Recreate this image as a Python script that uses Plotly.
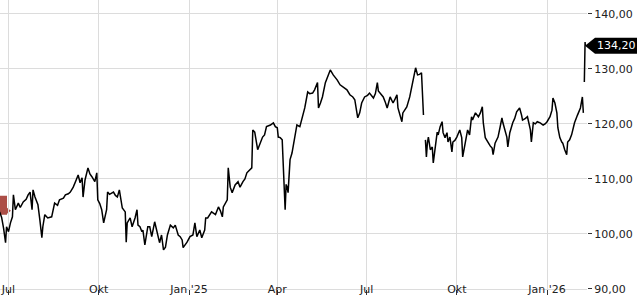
import plotly.graph_objects as go

dates = [
    "2024-06-22", "2024-06-24", "2024-06-26", "2024-06-28", "2024-06-29", "2024-07-01", "2024-07-03", "2024-07-05",
    "2024-07-06", "2024-07-08", "2024-07-11", "2024-07-13", "2024-07-16", "2024-07-19", "2024-07-21", "2024-07-23",
    "2024-07-25", "2024-07-26", "2024-07-28", "2024-07-31", "2024-08-02", "2024-08-04", "2024-08-05", "2024-08-07",
    "2024-08-10", "2024-08-14", "2024-08-17", "2024-08-20", "2024-08-22", "2024-08-26", "2024-08-28", "2024-08-31",
    "2024-09-02", "2024-09-05", "2024-09-08", "2024-09-10", "2024-09-12", "2024-09-14", "2024-09-15", "2024-09-17",
    "2024-09-20", "2024-09-22", "2024-09-24", "2024-09-27", "2024-09-29", "2024-09-30", "2024-10-02", "2024-10-04",
    "2024-10-06", "2024-10-09", "2024-10-10", "2024-10-12", "2024-10-16", "2024-10-18", "2024-10-20", "2024-10-22",
    "2024-10-25", "2024-10-28", "2024-10-29", "2024-10-30", "2024-11-02", "2024-11-04", "2024-11-07", "2024-11-09",
    "2024-11-10", "2024-11-12", "2024-11-14", "2024-11-15", "2024-11-17", "2024-11-19", "2024-11-20", "2024-11-22",
    "2024-11-24", "2024-11-27", "2024-11-30", "2024-12-02", "2024-12-04", "2024-12-06", "2024-12-08", "2024-12-10",
    "2024-12-13", "2024-12-16", "2024-12-18", "2024-12-21", "2024-12-23", "2024-12-25", "2024-12-26", "2024-12-28",
    "2024-12-30", "2025-01-02", "2025-01-05", "2025-01-07", "2025-01-09", "2025-01-12", "2025-01-14", "2025-01-17",
    "2025-01-18", "2025-01-20", "2025-01-22", "2025-01-24", "2025-01-28", "2025-01-31", "2025-02-02", "2025-02-04",
    "2025-02-05", "2025-02-07", "2025-02-09", "2025-02-10", "2025-02-12", "2025-02-14", "2025-02-17", "2025-02-20",
    "2025-02-22", "2025-02-25", "2025-02-27", "2025-03-01", "2025-03-04", "2025-03-06", "2025-03-07", "2025-03-09",
    "2025-03-12", "2025-03-14", "2025-03-17", "2025-03-19", "2025-03-21", "2025-03-25", "2025-03-28", "2025-03-30",
    "2025-04-01", "2025-04-02", "2025-04-04", "2025-04-06", "2025-04-07", "2025-04-08", "2025-04-09", "2025-04-10",
    "2025-04-11", "2025-04-12", "2025-04-13", "2025-04-14", "2025-04-16", "2025-04-19", "2025-04-21", "2025-04-24",
    "2025-04-26", "2025-04-29", "2025-05-02", "2025-05-04", "2025-05-07", "2025-05-09", "2025-05-12", "2025-05-13",
    "2025-05-15", "2025-05-17", "2025-05-20", "2025-05-23", "2025-05-25", "2025-05-28", "2025-05-30", "2025-06-01",
    "2025-06-04", "2025-06-07", "2025-06-09", "2025-06-11", "2025-06-14", "2025-06-17", "2025-06-19", "2025-06-21",
    "2025-06-22", "2025-06-24", "2025-06-26", "2025-06-29", "2025-07-02", "2025-07-04", "2025-07-08", "2025-07-10",
    "2025-07-12", "2025-07-13", "2025-07-15", "2025-07-18", "2025-07-20", "2025-07-22", "2025-07-25", "2025-07-28",
    "2025-07-30", "2025-08-01", "2025-08-02", "2025-08-04", "2025-08-06", "2025-08-07", "2025-08-09", "2025-08-11",
    "2025-08-14", "2025-08-17", "2025-08-20", "2025-08-22", "2025-08-24", "2025-08-26", "2025-08-27", "2025-08-28",
    "2025-08-29", "2025-08-30", "2025-08-31", "2025-09-01", "2025-09-02", "2025-09-04", "2025-09-06", "2025-09-07",
    "2025-09-09", "2025-09-11", "2025-09-12", "2025-09-14", "2025-09-16", "2025-09-17", "2025-09-19", "2025-09-21",
    "2025-09-22", "2025-09-24", "2025-09-26", "2025-09-27", "2025-09-29", "2025-10-01", "2025-10-04", "2025-10-06",
    "2025-10-07", "2025-10-09", "2025-10-12", "2025-10-14", "2025-10-16", "2025-10-17", "2025-10-20", "2025-10-23",
    "2025-10-25", "2025-10-27", "2025-10-28", "2025-10-30", "2025-11-02", "2025-11-04", "2025-11-06", "2025-11-07",
    "2025-11-09", "2025-11-12", "2025-11-14", "2025-11-16", "2025-11-17", "2025-11-19", "2025-11-21", "2025-11-22",
    "2025-11-24", "2025-11-27", "2025-11-29", "2025-12-01", "2025-12-04", "2025-12-06", "2025-12-07", "2025-12-10",
    "2025-12-12", "2025-12-15", "2025-12-16", "2025-12-18", "2025-12-20", "2025-12-22", "2025-12-25", "2025-12-28",
    "2025-12-30", "2026-01-01", "2026-01-04", "2026-01-06", "2026-01-07", "2026-01-09", "2026-01-11", "2026-01-12",
    "2026-01-14", "2026-01-16", "2026-01-17", "2026-01-19", "2026-01-21", "2026-01-22", "2026-01-24", "2026-01-26",
    "2026-01-27", "2026-01-29", "2026-02-01", "2026-02-04", "2026-02-06", "2026-02-07", "2026-02-07 12:00",
    "2026-02-08", "2026-02-08 18:00", "2026-02-09",
]

prices = [
    104.0, 103.0, 101.0, 98.4, 101.3, 100.4, 102.0, 103.1,
    107.1, 104.4, 105.6, 104.8, 105.8, 106.3, 107.1, 107.6,
    104.4, 108.0, 106.7, 105.3, 102.5, 99.3, 101.3, 103.5,
    102.9, 103.1, 105.6, 105.2, 106.2, 106.5, 107.1, 107.3,
    107.6, 108.5, 109.8, 110.7, 109.3, 110.2, 106.7, 109.8,
    112.0, 110.9, 110.4, 109.5, 111.1, 106.2, 105.5, 104.4,
    102.0, 104.4, 107.6, 107.2, 107.6, 107.0, 106.7, 108.0,
    104.7, 104.0, 98.5, 102.0, 102.9, 101.3, 102.9, 104.4,
    101.6, 101.3, 100.4, 100.7, 98.0, 100.4, 101.3, 101.3,
    99.5, 102.2, 99.5, 98.4, 99.8, 97.1, 97.6, 99.8,
    101.6, 101.1, 101.6, 99.8, 99.5, 98.9, 97.5, 98.0,
    98.5, 99.5, 99.8, 102.0, 99.5, 100.7, 99.3, 100.7,
    102.9, 102.9, 103.4, 104.0, 103.5, 104.9, 104.2, 103.1,
    104.9, 105.5, 106.2, 112.0, 108.5, 107.5, 108.9, 109.5,
    108.5, 109.5, 110.0, 111.1, 111.6, 112.0, 118.9, 118.5,
    115.3, 116.2, 117.6, 118.0, 119.5, 119.8, 120.2, 119.5,
    119.3, 117.6, 117.5, 117.1, 113.5, 110.4, 104.4, 109.0,
    108.5, 107.5, 111.5, 113.5, 114.7, 117.6, 119.8, 119.5,
    120.7, 122.9, 125.8, 125.5, 125.6, 126.2, 127.5, 122.9,
    123.8, 124.9, 127.5, 128.9, 129.8, 128.9, 128.5, 128.0,
    127.1, 126.7, 126.5, 126.2, 125.3, 124.9, 124.4, 122.5,
    121.1, 122.0, 123.8, 124.9, 125.2, 125.6, 124.7, 125.5,
    127.5, 126.0, 125.6, 124.9, 124.0, 122.9, 124.9, 123.8,
    124.5, 125.3, 122.9, 121.5, 120.4, 122.0, 122.5, 123.1,
    124.9, 127.5, 130.2, 128.9, 129.0, 129.3, 125.6, 121.6,
    None, 117.1, 114.0, 116.5, 117.6, 115.3, 115.8, 112.9,
    115.6, 118.5, 118.0, 119.5, 120.4, 118.4, 117.5, 118.4,
    116.7, 117.6, 114.9, 116.7, 117.0, 117.6, 118.9, 117.5,
    114.0, 116.2, 118.9, 118.0, 121.3, 120.7, 122.0, 121.3,
    122.0, 123.1, 120.2, 117.5, 116.5, 116.0, 115.6, 114.4,
    116.5, 117.6, 119.3, 121.1, 120.2, 118.9, 117.6, 115.8,
    118.4, 120.2, 121.0, 122.2, 122.9, 121.6, 120.7, 121.0,
    121.3, 118.9, 116.7, 120.2, 120.0, 120.4, 120.2, 119.8,
    120.0, 120.4, 121.3, 122.5, 124.7, 123.8, 122.0, 119.3,
    117.5, 116.7, 116.5, 115.3, 114.4, 116.7, 117.1, 118.0,
    118.9, 120.2, 121.6, 122.9, 124.9, 122.0, None,
    127.6, 134.9, 134.2,
]

tick_dates = ["2024-07-01", "2024-10-01", "2025-01-01", "2025-04-01",
              "2025-07-01", "2025-10-01", "2026-01-01"]
tick_text = ["Jul", "Okt", "Jan '25", "Apr", "Jul", "Okt", "Jan '26"]
y_ticks = [90, 100, 110, 120, 130, 140]

last_price = 134.20
marker_price = 104.4

FONT = "DejaVu Sans"

fig = go.Figure()
fig.add_trace(go.Scatter(
    x=dates, y=prices, mode="lines",
    line=dict(color="#000000", width=1.5),
    connectgaps=False, hoverinfo="skip", showlegend=False,
))

# left red entry tag (mostly outside the view)
fig.add_shape(
    type="path", xref="paper", yref="y", xsizemode="pixel", ysizemode="pixel",
    xanchor=0, yanchor=marker_price,
    path="M -50,14 L 7,14 L 7,2 L 11,-1 L 7,-4 L 7,-5 L -50,-5 Z",
    fillcolor="#a8443d", line=dict(width=0), layer="below", opacity=0.95,
)

# last price tag on the right
fig.add_shape(
    type="path", xref="paper", yref="y", xsizemode="pixel", ysizemode="pixel",
    xanchor=1, yanchor=last_price,
    path="M -2,0 L 8,8 L 50,8 L 50,-8 L 8,-8 Z",
    fillcolor="#000000", line=dict(width=0), layer="above",
)
fig.add_annotation(
    xref="paper", yref="y", x=1, y=last_price, xshift=29, yshift=0,
    text=f"{last_price:.2f}".replace(".", ","), showarrow=False,
    font=dict(family=FONT, size=11, color="#ffffff"),
    xanchor="center", yanchor="middle",
)

fig.update_layout(
    width=640, height=300,
    margin=dict(l=0, r=53, t=0, b=11),
    paper_bgcolor="#ffffff", plot_bgcolor="#ffffff",
    separators=",.",
    font=dict(family=FONT, size=11, color="#222222"),
    xaxis=dict(
        type="date",
        range=["2024-06-22 08:00", "2026-02-10 17:00"],
        tickvals=tick_dates, ticktext=tick_text,
        showgrid=True, gridcolor="#dcdcdc", gridwidth=1,
        ticks="outside", ticklen=5, tickcolor="#333333", tickwidth=1,
        ticklabelstandoff=-15,
        showline=True, linecolor="#dcdcdc", linewidth=1,
        zeroline=False, fixedrange=True,
        tickfont=dict(family=FONT, size=11, color="#222222"),
    ),
    yaxis=dict(
        side="right", range=[89.98, 89.98 + 289 / 5.5],
        tickvals=y_ticks, tickformat=".2f",
        showgrid=True, gridcolor="#dcdcdc", gridwidth=1,
        ticks="outside", ticklen=4, tickcolor="#333333", tickwidth=1,
        showline=False, zeroline=False, fixedrange=True,
        tickfont=dict(family=FONT, size=11, color="#222222"),
    ),
)

fig.write_html("out.html")
